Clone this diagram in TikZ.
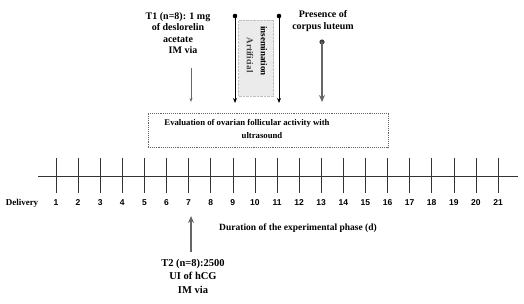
\documentclass[tikz,border=0pt]{standalone}
\usepackage{fontspec}
\setmainfont{Liberation Serif}
\setsansfont{Liberation Sans}
\usetikzlibrary{arrows.meta}
\begin{document}
\begin{tikzpicture}[x=1pt,y=-1pt,
  lbl/.style={font=\bfseries\fontsize{10}{11.5}\selectfont, align=center, inner sep=0pt},
  tick/.style={font=\sffamily\bfseries\fontsize{8.5}{9}\selectfont, inner sep=0pt},
  blackarrow/.style={line width=0.9pt, -{Stealth[length=5pt,width=4pt]}},
  grayarrow/.style={draw=black!60, line width=1.5pt, -{Stealth[length=7pt,width=6pt]}},
  thinarrow/.style={draw=black!60, line width=0.6pt, -{Stealth[length=4pt,width=3pt,open]}}
]
\useasboundingbox (0,0) rectangle (524,303);
% axis
\coordinate (axL) at (38,176);
\coordinate (axR) at (518,176);
\draw[line width=0.6pt, black!80] (axL) -- (axR);
\foreach \i in {1,...,21} {
  \pgfmathsetmacro{\xx}{56+(\i-1)*22.1}
  \coordinate (tt\i) at (\xx,158);
  \coordinate (tb\i) at (\xx,193);
  \draw[line width=0.6pt, black!80] (tt\i) -- (tb\i);
  \node[tick] (n\i) at (\xx,203) {\i};
}
\node[font=\bfseries\fontsize{9}{10}\selectfont, inner sep=0pt] (deliv) at (22,203) {Delivery};
\node[font=\bfseries\fontsize{9.5}{11}\selectfont, inner sep=0pt] (dur) at (298,228) {Duration of the experimental phase (d)};

% T1
\node[lbl] (t1) at (178,33) {T1 (n=8): 1 mg\\of deslorelin\\acetate\\\hspace*{10pt}IM via};
\coordinate (t1a) at (191,68);
\coordinate (t1b) at (191,102);
\draw[thinarrow] (t1a) -- (t1b);

% artificial insemination
\node[draw=black!25, densely dotted, fill=black!8, minimum width=35pt, minimum height=76pt, inner sep=0pt] (ai) at (256,58) {};
\node[font=\bfseries\fontsize{9}{10}\selectfont, inner sep=0pt, text=black!75] (ai1) at (250,55) {\rotatebox{-90}{Artificial}};
\node[font=\bfseries\fontsize{9}{10}\selectfont, inner sep=0pt] (ai2) at (264,51) {\rotatebox{-90}{insemination}};
\coordinate (l2t) at (235,16);
\coordinate (l2b) at (235,103);
\coordinate (l3t) at (279,16);
\coordinate (l3b) at (279,103);
\fill (l2t) circle (2.3pt);
\fill (l3t) circle (2.3pt);
\draw[blackarrow] (l2t) -- (l2b);
\draw[blackarrow] (l3t) -- (l3b);

% corpus luteum
\node[lbl] (cl) at (323,21) {Presence of\\corpus luteum};
\coordinate (l4t) at (322,42);
\coordinate (l4b) at (322,102);
\fill[black!75] (l4t) circle (2.6pt);
\draw[grayarrow] (l4t) -- (l4b);

% evaluation box
\node[draw=black!60, densely dotted, line width=0.9pt, minimum width=240pt, minimum height=34pt, inner sep=0pt] (box) at (268,130) {};
\node[font=\bfseries\fontsize{8.7}{10}\selectfont, inner sep=0pt] (ev1) at (247,123) {Evaluation of ovarian follicular activity with};
\node[font=\bfseries\fontsize{8.7}{10}\selectfont, inner sep=0pt] (ev2) at (262,136) {ultrasound};

% T2
\coordinate (t2a) at (191,252);
\coordinate (t2b) at (191,216);
\draw[grayarrow, line width=1.2pt] (t2a) -- (t2b);
\node[font=\bfseries\fontsize{10.5}{13.5}\selectfont, align=center, inner sep=0pt] (t2) at (193,276) {T2 (n=8):2500\\UI of hCG\\IM via};
\end{tikzpicture}
\end{document}
